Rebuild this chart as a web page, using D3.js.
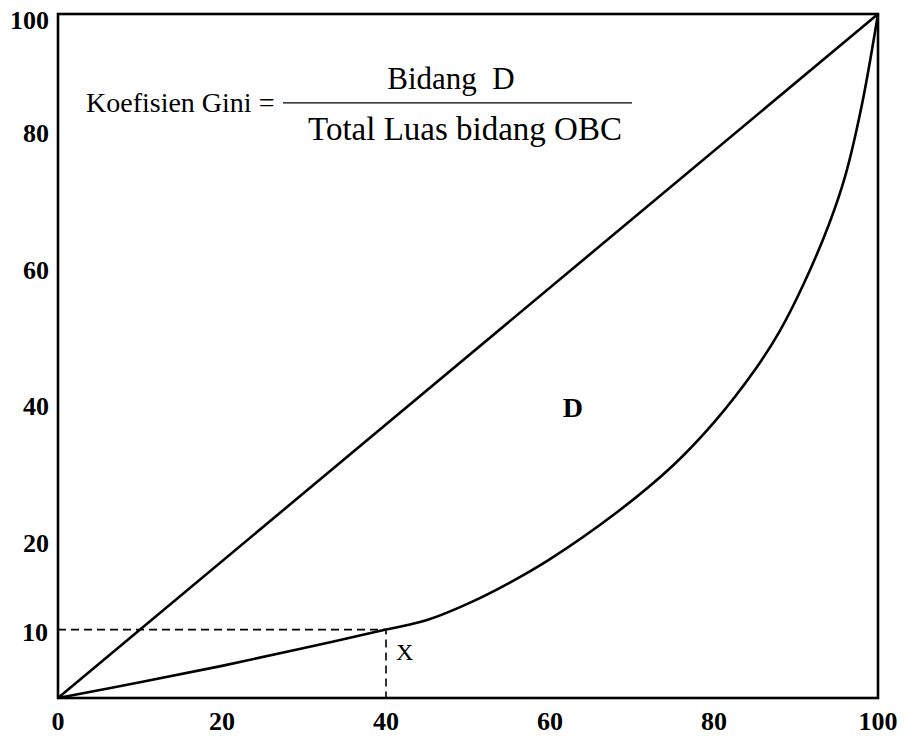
<!DOCTYPE html>
<html>
<head>
<meta charset="utf-8">
<script src="https://cdn.jsdelivr.net/npm/d3@7"></script>
<style>
  body { margin: 0; background: #fff; }
  text { font-family: "Liberation Serif", "Times New Roman", serif; fill: #000; }
</style>
</head>
<body>
<div id="chart"></div>
<script>
// Lorenz curve (cumulative % population vs cumulative % income)
const lorenzX = [0, 10, 20, 30, 40, 45, 50, 55, 60, 68, 75, 80, 85, 88, 91, 94, 96, 98, 100];
const lorenzY = [0, 2.3, 4.7, 7.3, 10, 11.4, 13.8, 16.8, 20.3, 27, 34, 40.3, 48, 53.6, 60.7, 69.2, 76.3, 86.5, 100];

const xTicks = [0, 20, 40, 60, 80, 100];
const yTicks = [20, 40, 60, 80, 100];
const pointX = { x: 40, y: 10, label: "X" };

const margin = { top: 14, right: 30, bottom: 41, left: 58 },
      width = 908 - margin.left - margin.right,
      height = 739 - margin.top - margin.bottom;

const svg = d3.select("#chart")
    .append("svg")
    .attr("width", 908)
    .attr("height", 739)
    .append("g")
    .attr("transform", `translate(${margin.left},${margin.top})`);

const x = d3.scaleLinear().domain([0, 100]).range([0, width]);
const y = d3.scaleLinear().domain([0, 100]).range([height, 0]);

// frame
svg.append("rect")
    .attr("x", 0).attr("y", 0)
    .attr("width", width).attr("height", height)
    .attr("fill", "none")
    .attr("stroke", "#000")
    .attr("stroke-width", 2.6);

// x tick labels
svg.selectAll(".xlab")
    .data(xTicks)
    .enter()
    .append("text")
    .attr("x", d => x(d))
    .attr("y", height + 26)
    .attr("text-anchor", "middle")
    .attr("dominant-baseline", "middle")
    .style("font-size", "26px")
    .style("font-weight", "bold")
    .text(d => d);

// y tick labels
svg.selectAll(".ylab")
    .data(yTicks)
    .enter()
    .append("text")
    .attr("x", -9)
    .attr("y", d => Math.max(y(d) - 15, 9))
    .attr("text-anchor", "end")
    .attr("dominant-baseline", "middle")
    .style("font-size", "26px")
    .style("font-weight", "bold")
    .text(d => d);

// line of equality
svg.append("line")
    .attr("x1", x(0)).attr("y1", y(0))
    .attr("x2", x(100)).attr("y2", y(100))
    .attr("stroke", "#000")
    .attr("stroke-width", 2.6);

// Lorenz curve
const pts = lorenzX.map((v, i) => [v, lorenzY[i]]);
svg.append("path")
    .datum(pts)
    .attr("fill", "none")
    .attr("stroke", "#000")
    .attr("stroke-width", 2.6)
    .attr("d", d3.line().x(d => x(d[0])).y(d => y(d[1])).curve(d3.curveCatmullRom.alpha(0.5)));

// dashed guides to point X
svg.append("path")
    .attr("d", `M${x(0)},${y(pointX.y)}H${x(pointX.x)}V${y(0)}`)
    .attr("fill", "none")
    .attr("stroke", "#000")
    .attr("stroke-width", 1.6)
    .attr("stroke-dasharray", "8,5");

svg.append("text")
    .attr("x", -10)
    .attr("y", y(pointX.y) + 5)
    .attr("text-anchor", "end")
    .attr("dominant-baseline", "middle")
    .style("font-size", "26px")
    .style("font-weight", "bold")
    .text(pointX.y);

svg.append("text")
    .attr("x", x(pointX.x) + 10)
    .attr("y", y(pointX.y) + 25)
    .attr("dominant-baseline", "middle")
    .style("font-size", "24px")
    .text(pointX.label);

// area label
svg.append("text")
    .attr("x", x(62.8))
    .attr("y", y(42))
    .attr("text-anchor", "middle")
    .attr("dominant-baseline", "middle")
    .style("font-size", "28px")
    .style("font-weight", "bold")
    .text("D");

// formula
const f = svg.append("g").attr("transform", `translate(0, ${y(87)})`);
f.append("text")
    .attr("x", 28)
    .attr("y", 9)
    .style("font-size", "28px")
    .text("Koefisien Gini =");
f.append("line")
    .attr("x1", 225).attr("x2", 574)
    .attr("y1", 0).attr("y2", 0)
    .attr("stroke", "#000")
    .attr("stroke-width", 1.3);
f.append("text")
    .attr("x", 393)
    .attr("y", -14)
    .attr("text-anchor", "middle")
    .attr("xml:space", "preserve")
    .style("font-size", "31px")
    .text("Bidang  D");
f.append("text")
    .attr("x", 407)
    .attr("y", 37)
    .attr("text-anchor", "middle")
    .style("font-size", "33px")
    .text("Total Luas bidang OBC");
</script>
</body>
</html>
